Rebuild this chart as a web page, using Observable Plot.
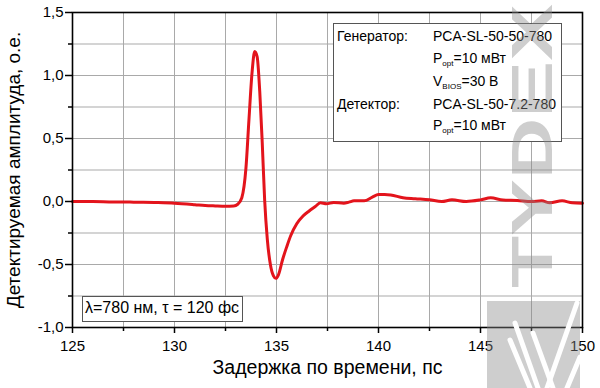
<!DOCTYPE html>
<html>
<head>
<meta charset="utf-8">
<script src="https://cdn.jsdelivr.net/npm/d3@7"></script>
<script src="https://cdn.jsdelivr.net/npm/@observablehq/plot@0.6"></script>
<style>
  html, body { margin: 0; padding: 0; background: #fff; }
  #wrap { position: relative; width: 600px; height: 388px; font-family: Arial, "Liberation Sans", sans-serif; color: #000; }
  #wm { position: absolute; left: 0; top: 0; pointer-events: none; }
  #chart { position: absolute; left: 0; top: 0; }
  #chart svg { background: transparent; }
  .box { position: absolute; background: #fff; border: 1px solid #555; font-size: 14px; box-sizing: border-box; }
  .row { position: absolute; white-space: nowrap; }
  sub { font-size: 8px; vertical-align: -3px; line-height: 0; }
</style>
</head>
<body>
<div id="wrap">
  <div id="chart"></div>
  <div class="box" style="left:333px; top:23px; width:229px; height:119px;">
    <div class="row" style="left:3px; top:4px;">Генератор:</div>
    <div class="row" style="left:99px; top:4px;">PCA-SL-50-50-780</div>
    <div class="row" style="left:99px; top:26px;">P<sub>opt</sub>=10 мВт</div>
    <div class="row" style="left:99px; top:49px;">V<sub>BIOS</sub>=30 В</div>
    <div class="row" style="left:3px; top:72px;">Детектор:</div>
    <div class="row" style="left:99px; top:72px;">PCA-SL-50-7.2-780</div>
    <div class="row" style="left:99px; top:93px;">P<sub>opt</sub>=10 мВт</div>
  </div>
  <div class="box" style="left:82px; top:296px; height:26px; padding:2px 3px 0 2px; font-size:16px; white-space:nowrap;">λ=780 нм, τ = 120 фс</div>
  <svg id="wm" width="600" height="388">
    <g fill="#8a8a8a" fill-opacity="0.42">
      <text transform="translate(552,288) rotate(-90)" font-family="Arial, 'Liberation Sans', sans-serif" font-weight="bold" font-size="58" textLength="284" lengthAdjust="spacingAndGlyphs">TYDEX</text>
      <polygon points="487,301 580,301 580,388 487,388"/>
    </g>
    <g stroke="#fff" stroke-width="5" stroke-linecap="round" fill="none">
      <line x1="515" y1="323" x2="538" y2="388"/>
      <line x1="510" y1="340" x2="530" y2="388"/>
      <line x1="533" y1="333" x2="553" y2="388"/>
      <line x1="577" y1="303" x2="547" y2="388"/>
      <line x1="580" y1="357" x2="567" y2="388"/>
    </g>
  </svg>
</div>
<script>
// Data
const delayPs = [125, 126, 127, 127.5, 128, 129, 130, 131, 131.5, 132, 132.5, 132.9, 133.1, 133.3, 133.5, 133.65, 133.8, 133.93, 134.05, 134.18, 134.3, 134.42, 134.55, 134.7, 134.85, 134.97, 135.1, 135.3, 135.5, 135.7, 136.0, 136.3, 136.6, 136.9, 137.15, 137.45, 137.8, 138.3, 138.55, 138.8, 139.3, 139.7, 140.0, 140.3, 140.6, 141.2, 141.8, 142.5, 143.1, 143.6, 144.3, 145.0, 145.5, 146.1, 146.8, 147.5, 148.0, 148.4, 149.0, 149.5, 150];
const amplitude = [0, 0, -0.003, -0.003, -0.005, -0.008, -0.013, -0.025, -0.032, -0.035, -0.037, -0.035, -0.022, 0.03, 0.26, 0.65, 1.02, 1.19, 1.15, 0.87, 0.47, 0.01, -0.30, -0.50, -0.59, -0.61, -0.58, -0.46, -0.36, -0.27, -0.175, -0.115, -0.075, -0.04, -0.01, -0.018, -0.008, -0.013, -0.005, 0.005, 0.005, 0.035, 0.055, 0.056, 0.052, 0.03, 0.022, 0.013, 0.0, 0.013, 0.0, 0.013, 0.029, 0.012, 0.008, 0.0, 0.005, -0.01, 0.005, -0.01, -0.013];

const xMajorTicks = [125, 130, 135, 140, 145, 150];
const xMinorTicks = [127.5, 132.5, 137.5, 142.5, 147.5];
const yMajorTicks = [-1.0, -0.5, 0.0, 0.5, 1.0, 1.5];
const yMinorTicks = [-0.75, -0.25, 0.25, 0.75, 1.25];
const xTitle = "Задержка по времени, пс";
const yTitle = "Детектируемая амплитуда, о.е.";

const data = delayPs.map((t, i) => ({t, a: amplitude[i]}));
const xGrid = [...xMajorTicks, ...xMinorTicks];
const yGrid = [...yMajorTicks, ...yMinorTicks];
const fmt = d => d.toFixed(1).replace(".", ",");

const chart = Plot.plot({
  width: 600,
  height: 388,
  marginLeft: 72,
  marginRight: 18,
  marginTop: 12,
  marginBottom: 61,
  style: {background: "transparent", fontFamily: "Arial, 'Liberation Sans', sans-serif", color: "#000"},
  x: {domain: [125, 150]},
  y: {domain: [-1, 1.5]},
  marks: [
    Plot.gridX(xGrid, {stroke: "#a9a9a9", strokeOpacity: 1, strokeWidth: 1}),
    Plot.gridY(yGrid, {stroke: "#a9a9a9", strokeOpacity: 1, strokeWidth: 1}),
    Plot.line(data, {x: "t", y: "a", stroke: "#e3141c", strokeWidth: 3, curve: "monotone-x"}),
    Plot.frame({stroke: "#000", strokeWidth: 1.6}),
    Plot.axisX(xMajorTicks, {tickSize: 6, tickPadding: 7, fontSize: 15, strokeWidth: 1.5, label: null}),
    Plot.axisX(xMinorTicks, {tickSize: 4, tickFormat: () => "", strokeWidth: 1.5, label: null}),
    Plot.axisY(yMajorTicks, {tickSize: 7, tickPadding: 2, fontSize: 15, tickFormat: fmt, strokeWidth: 1.5, label: null}),
    Plot.axisY(yMinorTicks, {tickSize: 4, tickFormat: () => "", strokeWidth: 1.5, label: null}),
    Plot.text([xTitle], {frameAnchor: "bottom", dy: 46, fontSize: 19.5, fill: "#000"}),
    Plot.text([yTitle], {frameAnchor: "left", textAnchor: "middle", dx: -59, rotate: -90, fontSize: 19, fill: "#000"})
  ]
});
document.getElementById("chart").appendChild(chart);
</script>
</body>
</html>
